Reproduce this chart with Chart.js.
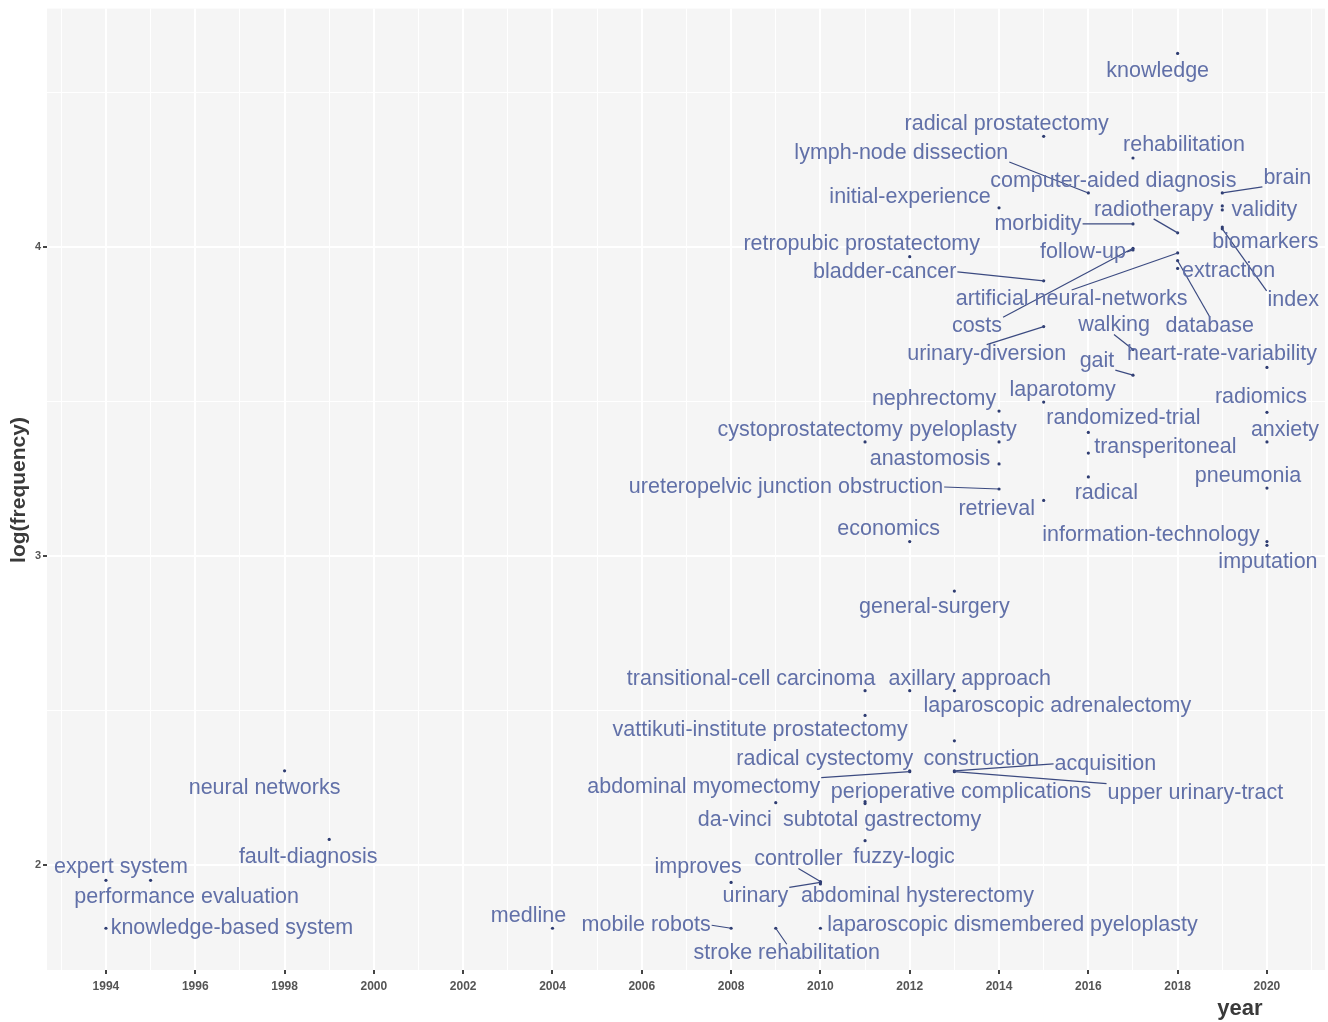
<!DOCTYPE html>
<html>
<head>
<meta charset="utf-8">
<script src="https://cdn.jsdelivr.net/npm/chart.js@4.4.1/dist/chart.umd.min.js"></script>
<style>
  html, body { margin: 0; padding: 0; background: #ffffff; }
  #wrap { width: 1328px; height: 1022px; }
</style>
</head>
<body>
<div id="wrap"><canvas id="chart"></canvas></div>
<script>
// keyword, first year it peaks, log(frequency)
var terms = [
  "knowledge", "radical prostatectomy", "rehabilitation", "lymph-node dissection",
  "computer-aided diagnosis", "brain", "initial-experience", "radiotherapy", "validity",
  "morbidity", "biomarkers", "retropubic prostatectomy", "follow-up", "bladder-cancer",
  "extraction", "artificial neural-networks", "index", "database", "costs", "walking",
  "urinary-diversion", "gait", "heart-rate-variability", "laparotomy", "nephrectomy",
  "radiomics", "randomized-trial", "cystoprostatectomy", "pyeloplasty", "anxiety",
  "transperitoneal", "anastomosis", "radical", "pneumonia", "ureteropelvic junction obstruction",
  "retrieval", "economics", "information-technology", "imputation", "general-surgery",
  "transitional-cell carcinoma", "axillary approach", "laparoscopic adrenalectomy",
  "vattikuti-institute prostatectomy", "construction", "radical cystectomy", "acquisition",
  "abdominal myomectomy", "upper urinary-tract", "perioperative complications", "da-vinci",
  "subtotal gastrectomy", "fuzzy-logic", "improves", "controller", "urinary",
  "abdominal hysterectomy", "medline", "mobile robots", "stroke rehabilitation",
  "laparoscopic dismembered pyeloplasty", "neural networks", "fault-diagnosis",
  "expert system", "performance evaluation", "knowledge-based system"
];
var years = [
  2018, 2015, 2017, 2016,
  2019, 2019, 2014, 2018, 2019,
  2017, 2019, 2012, 2017, 2015,
  2018, 2018, 2019, 2018, 2017, 2017,
  2015, 2017, 2020, 2015, 2014,
  2020, 2016, 2011, 2014, 2020,
  2016, 2014, 2016, 2020, 2014,
  2015, 2012, 2020, 2020, 2013,
  2011, 2012, 2013,
  2011, 2013, 2012, 2013,
  2012, 2013, 2011, 2009,
  2011, 2011, 2008, 2010, 2010,
  2010, 2004, 2008, 2009,
  2010, 1998, 1999,
  1994, 1995, 1994
];
var logFreq = [
  4.625, 4.357, 4.287, 4.174,
  4.132, 4.174, 4.126, 4.045, 4.119,
  4.074, 4.064, 3.968, 3.990, 3.890,
  3.930, 3.980, 4.058, 3.955, 3.995, 3.668,
  3.742, 3.585, 3.610, 3.498, 3.469,
  3.465, 3.400, 3.369, 3.369, 3.369,
  3.333, 3.298, 3.256, 3.220, 3.217,
  3.180, 3.047, 3.047, 3.035, 2.887,
  2.565, 2.565, 2.565,
  2.485, 2.403, 2.306, 2.306,
  2.303, 2.303, 2.206, 2.203,
  2.200, 2.080, 1.945, 1.948, 1.945,
  1.940, 1.797, 1.797, 1.797,
  1.797, 2.306, 2.084,
  1.952, 1.952, 1.797
];
var xTickYears = [1994, 1996, 1998, 2000, 2002, 2004, 2006, 2008, 2010, 2012, 2014, 2016, 2018, 2020];
var yTickValues = [2, 3, 4];

// where each repelled label sits relative to its point (px), and which ones get a leader line
var labelOffset = {
  "knowledge": [-20, 18], "radical prostatectomy": [-37, -12], "rehabilitation": [51, -13],
  "lymph-node dissection": [-187, -40], "computer-aided diagnosis": [-109, -25], "brain": [65, -15],
  "initial-experience": [-89, -11], "radiotherapy": [-24, -23], "validity": [42, 0],
  "morbidity": [-95, 0], "biomarkers": [43, 15], "retropubic prostatectomy": [-48, -13],
  "follow-up": [-50, 2], "bladder-cancer": [-159, -9], "extraction": [51, 3],
  "artificial neural-networks": [-106, 46], "index": [71, 71], "database": [32, 65],
  "costs": [-156, 78], "walking": [-19, -24], "urinary-diversion": [-57, 27], "gait": [-36, -14],
  "heart-rate-variability": [-45, -13], "laparotomy": [19, -12], "nephrectomy": [-65, -12],
  "radiomics": [-6, -15], "randomized-trial": [35, -14], "cystoprostatectomy": [-55, -12],
  "pyeloplasty": [-36, -12], "anxiety": [18, -12], "transperitoneal": [77, -6],
  "anastomosis": [-69, -5], "radical": [18, 16], "pneumonia": [-19, -12],
  "ureteropelvic junction obstruction": [-213, -2], "retrieval": [-47, 9], "economics": [-21, -12],
  "information-technology": [-116, -6], "imputation": [1, 17], "general-surgery": [-20, 16],
  "transitional-cell carcinoma": [-114, -12], "axillary approach": [60, -12],
  "laparoscopic adrenalectomy": [103, 15], "vattikuti-institute prostatectomy": [-105, 15],
  "construction": [27, 18], "radical cystectomy": [-85, -12], "acquisition": [151, -7],
  "abdominal myomectomy": [-206, 15], "upper urinary-tract": [241, 21],
  "perioperative complications": [96, -10], "da-vinci": [-41, 17], "subtotal gastrectomy": [17, 16],
  "fuzzy-logic": [39, 16], "improves": [-33, -15], "controller": [-22, -22], "urinary": [-65, 14],
  "abdominal hysterectomy": [97, 12], "medline": [-24, -12], "mobile robots": [-85, -3],
  "stroke rehabilitation": [11, 25], "laparoscopic dismembered pyeloplasty": [192, -3],
  "neural networks": [-20, 17], "fault-diagnosis": [-21, 18], "expert system": [15, -13],
  "performance evaluation": [36, 17], "knowledge-based system": [126, 0]
};
var withSegment = [
  "lymph-node dissection", "brain", "radiotherapy", "morbidity",
  "follow-up", "bladder-cancer", "artificial neural-networks", "index", "database", "costs",
  "walking", "urinary-diversion", "gait", "ureteropelvic junction obstruction", "acquisition",
  "abdominal myomectomy", "upper urinary-tract", "controller", "urinary", "mobile robots",
  "stroke rehabilitation"
];

var points = terms.map(function(t, i) {
  return { x: years[i], y: logFreq[i], term: t };
});

var labelFont = '21.5px "Liberation Sans", Arial, sans-serif';

var panelBg = {
  id: "panelBg",
  beforeDraw: function(chart) {
    var a = chart.chartArea, ctx = chart.ctx;
    ctx.save();
    ctx.fillStyle = "#f5f5f5";
    ctx.fillRect(a.left, a.top, a.right - a.left, a.bottom - a.top);
    ctx.restore();
  }
};

// pick a corner or side midpoint of the label box, like ggrepel does
function connectPoint(px, py, l, r, t, b) {
  var x = px < l ? l : (px > r ? r : (l + r) / 2);
  var y = py < t ? t : (py > b ? b : (t + b) / 2);
  return [x, y];
}

var repelLabels = {
  id: "repelLabels",
  afterDatasetsDraw: function(chart) {
    var ctx = chart.ctx;
    var xs = chart.scales.x, ys = chart.scales.y;
    ctx.save();
    ctx.font = labelFont;
    ctx.textAlign = "center";
    ctx.textBaseline = "middle";
    terms.forEach(function(t, i) {
      if (withSegment.indexOf(t) < 0) return;
      var px = xs.getPixelForValue(years[i]);
      var py = ys.getPixelForValue(logFreq[i]);
      var off = labelOffset[t];
      var cx = px + off[0], cy = py + off[1];
      var hw = ctx.measureText(t).width / 2 + 1, hh = 9;
      var s = connectPoint(px, py, cx - hw, cx + hw, cy - hh, cy + hh);
      ctx.strokeStyle = "#3b4a80";
      ctx.lineWidth = 1.2;
      ctx.beginPath();
      ctx.moveTo(s[0], s[1]);
      ctx.lineTo(px, py);
      ctx.stroke();
    });
    ctx.fillStyle = "#6170a8";
    terms.forEach(function(t, i) {
      var px = xs.getPixelForValue(years[i]);
      var py = ys.getPixelForValue(logFreq[i]);
      var off = labelOffset[t];
      ctx.fillText(t, px + off[0], py + off[1]);
    });
    ctx.restore();
  }
};

var axisTitles = {
  id: "axisTitles",
  afterDraw: function(chart) {
    var ctx = chart.ctx;
    ctx.save();
    ctx.fillStyle = "#3a3a3a";
    ctx.font = 'bold 22px "Liberation Sans", Arial, sans-serif';
    ctx.textAlign = "center";
    ctx.textBaseline = "middle";
    ctx.fillText("year", 1240, 1009);
    ctx.translate(19, 490);
    ctx.rotate(-Math.PI / 2);
    ctx.font = 'bold 21px "Liberation Sans", Arial, sans-serif';
    ctx.fillText("log(frequency)", 0, 0);
    ctx.restore();
  }
};

var ctx = document.getElementById("chart").getContext("2d");
new Chart(ctx, {
  type: "scatter",
  data: {
    datasets: [{
      data: points,
      pointRadius: 1.6,
      pointHoverRadius: 1.6,
      pointBorderWidth: 0,
      backgroundColor: "#2f3d72",
      borderColor: "#2f3d72"
    }]
  },
  options: {
    responsive: true,
    maintainAspectRatio: false,
    animation: false,
    layout: { padding: { top: 5, right: 3, left: 0, bottom: 0 } },
    plugins: { legend: { display: false }, tooltip: { enabled: false } },
    scales: {
      x: {
        type: "linear",
        min: 1992.68,
        max: 2021.3,
        afterBuildTicks: function(scale) {
          var t = [];
          for (var y = 1993; y <= 2021; y++) t.push({ value: y });
          scale.ticks = t;
        },
        afterFit: function(scale) { scale.height = 52; },
        border: { display: false },
        grid: {
          color: "#ffffff",
          lineWidth: function(c) { return c.tick && c.tick.value % 2 === 0 ? 2 : 1; },
          tickColor: function(c) { return c.tick && c.tick.value % 2 === 0 ? "#444444" : "rgba(0,0,0,0)"; },
          tickLength: 4
        },
        ticks: {
          autoSkip: false,
          maxRotation: 0,
          padding: 5,
          color: "#555555",
          font: { family: '"Liberation Sans", Arial, sans-serif', size: 12, weight: "bold" },
          callback: function(v) { return xTickYears.indexOf(v) >= 0 ? String(v) : ""; }
        }
      },
      y: {
        type: "linear",
        min: 1.662,
        max: 4.77,
        afterBuildTicks: function(scale) {
          scale.ticks = [2, 2.5, 3, 3.5, 4, 4.5].map(function(v) { return { value: v }; });
        },
        afterFit: function(scale) { scale.width = 47; },
        border: { display: false },
        grid: {
          color: "#ffffff",
          lineWidth: function(c) { return c.tick && yTickValues.indexOf(c.tick.value) >= 0 ? 2 : 1; },
          tickColor: function(c) { return c.tick && yTickValues.indexOf(c.tick.value) >= 0 ? "#444444" : "rgba(0,0,0,0)"; },
          tickLength: 4
        },
        ticks: {
          autoSkip: false,
          padding: 2,
          color: "#555555",
          font: { family: '"Liberation Sans", Arial, sans-serif', size: 11, weight: "bold" },
          callback: function(v) { return yTickValues.indexOf(v) >= 0 ? String(v) : ""; }
        }
      }
    }
  },
  plugins: [panelBg, repelLabels, axisTitles]
});
</script>
</body>
</html>
